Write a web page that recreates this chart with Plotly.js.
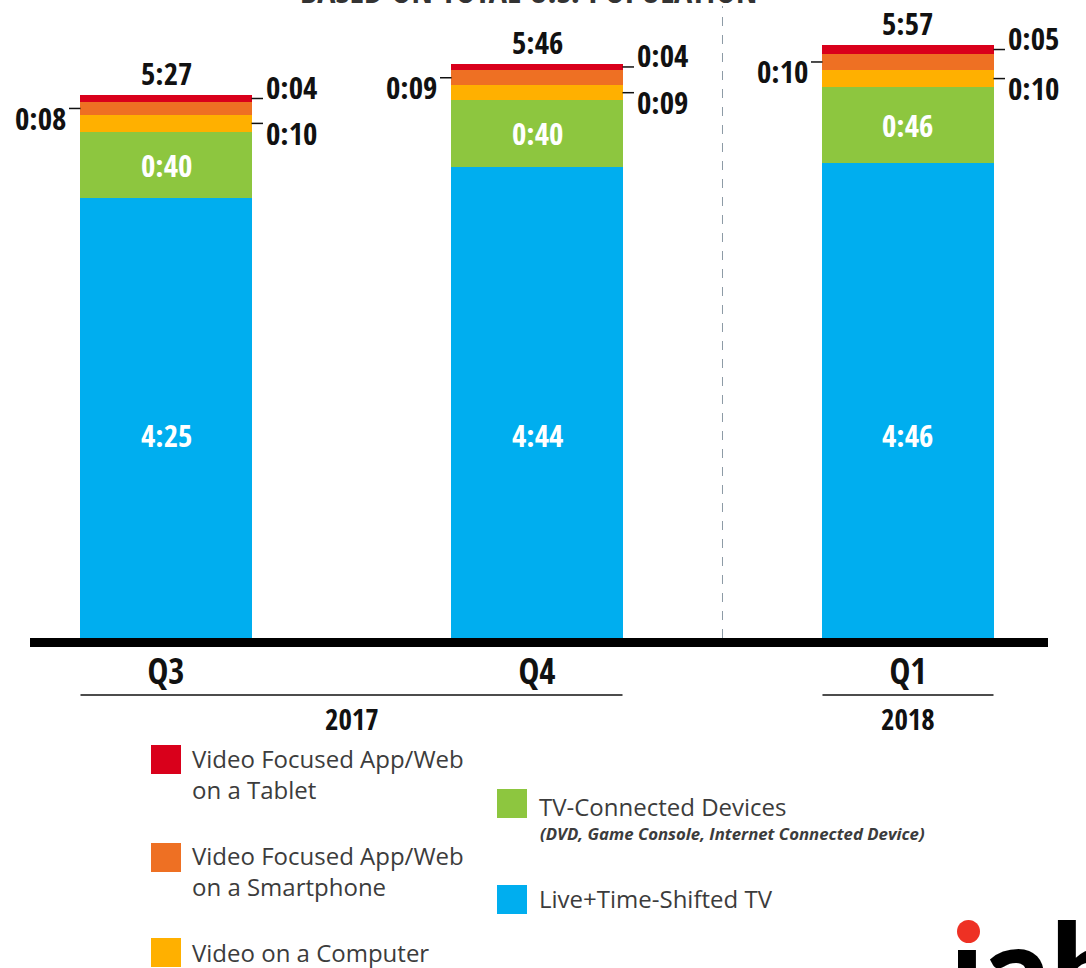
<!DOCTYPE html>
<html><head><meta charset="utf-8">
<script src="https://cdn.plot.ly/plotly-3.0.1.min.js"></script>
<style>html,body{margin:0;padding:0;background:#fff;overflow:hidden}#chart{width:1086px;height:968px}</style>
</head><body><div id="chart"></div>
<script>
// ---------- data ----------
const quarters = ["Q3", "Q4", "Q1"];
const years = ["2017", "2018"];
const yearFirstIdx = [0, 2];
const yearLastIdx = [1, 2];
const seriesNames = [
  "Live+Time-Shifted TV",
  "TV-Connected Devices",
  "Video on a Computer",
  "Video Focused App/Web<br>on a Smartphone",
  "Video Focused App/Web<br>on a Tablet"
];
// minutes per day
const liveTV      = [265, 284, 286];
const tvConnected = [40, 40, 46];
const computer    = [10, 9, 10];
const smartphone  = [8, 9, 10];
const tablet      = [4, 4, 5];
const titleText = "BASED ON TOTAL U.S. POPULATION";
const tvConnectedNote = "(DVD, Game Console, Internet Connected Device)";
const logoText = "\u0131ab";

// ---------- font detection (narrowest available) ----------
function hasFont(name) {
  const c = document.createElement("canvas").getContext("2d");
  const s = "0:08 Q3 5:27 abcMW";
  let ok = false;
  ["monospace", "serif"].forEach(base => {
    c.font = "bold 40px " + base; const w0 = c.measureText(s).width;
    c.font = "bold 40px '" + name + "', " + base; const w1 = c.measureText(s).width;
    if (Math.abs(w1 - w0) > 0.5) ok = true;
  });
  return ok;
}
const narrowCandidates = ["Noto Sans ExtraCondensed", "Noto Sans Condensed", "Open Sans Condensed",
  "Roboto Condensed", "Liberation Sans Narrow", "Noto Sans SemiCondensed", "Roboto"];
const narrowFont = narrowCandidates.find(hasFont) || "Roboto";
const NUM = "'" + narrowFont + "', Roboto, sans-serif";
const NUM_SIZE = narrowFont === "Roboto" ? 30 : 31;

// ---------- styling ----------
const colors = ["#00AEEF", "#8DC63F", "#FFB000", "#EE7023", "#D9001B"];
const W = 1086, H = 968, L = 30, R = 38, T = 0, B = 330;
const plotW = W - L - R, plotH = H - T - B;
const px2x = p => (p - L) / plotW;
const py2y = p => (T + plotH - p) / plotH;
const TXT = "'Open Sans', 'Noto Sans', sans-serif";
const fmt = m => Math.floor(m / 60) + ":" + String(m % 60).padStart(2, "0");
const BAR_W = 0.461;
const HALF_PX = 85.5;

const series = [liveTV, tvConnected, computer, smartphone, tablet];
const xs = quarters.map((q, i) => i);

const traces = series.map((vals, k) => ({
  type: "bar", x: xs, y: vals, name: seriesNames[k].replace("<br>", " "),
  width: BAR_W, marker: {color: colors[k], line: {width: 0}},
  showlegend: false, hovertemplate: "%{y} min<extra>%{fullData.name}</extra>"
}));

const annotations = [];
const shapes = [];
const numFont = (size, color) => ({family: NUM, size: size, color: color, weight: "bold"});

xs.forEach(i => {
  const c1 = liveTV[i], c2 = c1 + tvConnected[i], c3 = c2 + computer[i], c4 = c3 + smartphone[i], c5 = c4 + tablet[i];
  annotations.push({x: i, y: c5, xref: "x", yref: "y", text: fmt(c5), showarrow: false,
    yanchor: "middle", yshift: 22, font: numFont(NUM_SIZE, "#111")});
  annotations.push({x: i, y: (c1 + c2) / 2, xref: "x", yref: "y", text: fmt(tvConnected[i]), showarrow: false,
    yanchor: "middle", font: numFont(NUM_SIZE, "#fff")});
  annotations.push({x: i, y: 122, xref: "x", yref: "y", text: fmt(liveTV[i]), showarrow: false,
    yanchor: "middle", font: numFont(NUM_SIZE, "#fff")});
  const mTab = (c4 + c5) / 2, mComp = (c2 + c3) / 2, mPhone = (c3 + c4) / 2;
  annotations.push({x: i, y: mTab, xref: "x", yref: "y", text: fmt(tablet[i]), showarrow: false,
    xanchor: "left", xshift: 98, yanchor: "middle", yshift: 12, font: numFont(NUM_SIZE, "#111")});
  annotations.push({x: i, y: mComp, xref: "x", yref: "y", text: fmt(computer[i]), showarrow: false,
    xanchor: "left", xshift: 98, yanchor: "middle", yshift: -9.5, font: numFont(NUM_SIZE, "#111")});
  annotations.push({x: i, y: mPhone, xref: "x", yref: "y", text: fmt(smartphone[i]), showarrow: false,
    xanchor: "right", xshift: -98, yanchor: "middle", yshift: -9.5, font: numFont(NUM_SIZE, "#111")});
  [[mTab, 1], [mComp, 1], [mPhone, -1]].forEach(([ym, s]) => {
    shapes.push({type: "line", xref: "x", yref: "y", xsizemode: "pixel", xanchor: i,
      x0: s * HALF_PX, x1: s * 97, y0: ym, y1: ym, line: {color: "#111", width: 1.5}});
  });
});

// baseline bar
shapes.push({type: "rect", xref: "paper", yref: "paper", x0: 0, x1: 1, y0: py2y(647), y1: 0,
  fillcolor: "#000", line: {width: 0}});
// separator between years
shapes.push({type: "line", xref: "x", yref: "paper", x0: 1.5, x1: 1.5, y0: 0, y1: py2y(6),
  line: {color: "#8c9aa5", width: 1, dash: "dash"}});
// year group lines and labels
years.forEach((yr, j) => {
  const a = yearFirstIdx[j] - BAR_W / 2, b = yearLastIdx[j] + BAR_W / 2;
  shapes.push({type: "line", xref: "x", yref: "paper", x0: a, x1: b, y0: py2y(695), y1: py2y(695),
    line: {color: "#111", width: 1.5}});
  annotations.push({x: (yearFirstIdx[j] + yearLastIdx[j]) / 2, y: py2y(718), xref: "x", yref: "paper",
    text: yr, showarrow: false, yanchor: "middle", font: numFont(29, "#111")});
});

// title (cut off at top, as in the source image)
annotations.push({x: px2x(528), y: py2y(15), xref: "paper", yref: "paper", text: titleText, showarrow: false,
  yanchor: "bottom", font: numFont(34, "#333")});

// custom legend
const legendItems = [
  {k: 4, sx: 151, sy: 745, tx: 190, ty: 774},
  {k: 3, sx: 151, sy: 843, tx: 190, ty: 871},
  {k: 2, sx: 151, sy: 938, tx: 190, ty: 952},
  {k: 1, sx: 497, sy: 789, tx: 537, ty: 806},
  {k: 0, sx: 497, sy: 885, tx: 537, ty: 898}
];
legendItems.forEach(it => {
  shapes.push({type: "rect", xref: "paper", yref: "paper", x0: px2x(it.sx), x1: px2x(it.sx + 30),
    y0: py2y(it.sy + 29), y1: py2y(it.sy), fillcolor: colors[it.k], line: {width: 0}});
  annotations.push({x: px2x(it.tx), y: py2y(it.ty), xref: "paper", yref: "paper", text: seriesNames[it.k],
    showarrow: false, xanchor: "left", yanchor: "middle", align: "left",
    font: {family: TXT, size: 24, color: "#3c3c3c"}});
});
annotations.push({x: px2x(538), y: py2y(833), xref: "paper", yref: "paper", text: "<b><i>" + tvConnectedNote + "</i></b>",
  showarrow: false, xanchor: "left", yanchor: "middle", font: {family: TXT, size: 16.8, color: "#3c3c3c"}});

// logo
shapes.push({type: "circle", xref: "paper", yref: "paper", x0: px2x(957), x1: px2x(980), y0: py2y(943), y1: py2y(920),
  fillcolor: "#EE3124", line: {width: 0}});
annotations.push({x: px2x(948), y: py2y(967), xref: "paper", yref: "paper", text: logoText, showarrow: false,
  xanchor: "left", yanchor: "middle", font: {family: "Lato, 'DejaVu Sans', sans-serif", size: 130, color: "#000", weight: 900}});

const layout = {
  width: W, height: H,
  margin: {l: L, r: R, t: T, b: B, pad: 0},
  paper_bgcolor: "#fff", plot_bgcolor: "#fff",
  barmode: "stack",
  showlegend: false,
  xaxis: {range: [-0.3666, 2.3774], tickvals: xs, ticktext: quarters, showgrid: false, zeroline: false,
    showline: false, ticks: "", ticklabelstandoff: 10, tickfont: numFont(35, "#111"), fixedrange: true},
  yaxis: {range: [0, plotH / 1.66], showgrid: false, zeroline: false, showline: false, showticklabels: false,
    ticks: "", fixedrange: true},
  annotations: annotations,
  shapes: shapes
};
Plotly.newPlot("chart", traces, layout, {displayModeBar: false, staticPlot: true});
</script></body></html>
